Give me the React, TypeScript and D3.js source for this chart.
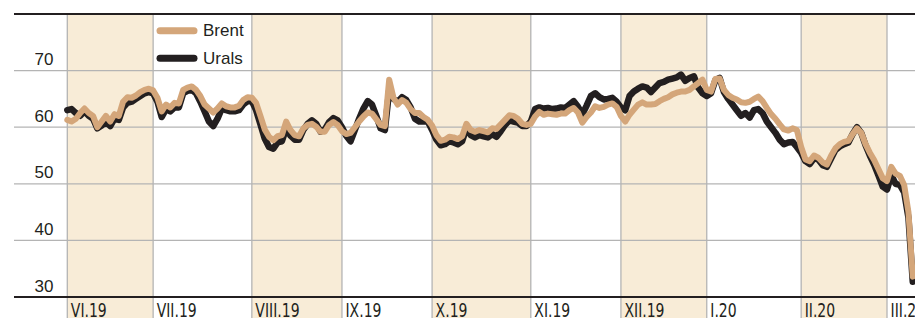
import * as d3 from "d3";

const W = 915;
const H = 318;

const monthLabels = ["VI.19", "VII.19", "VIII.19", "IX.19", "X.19", "XI.19", "XII.19", "I.20", "II.20", "III.20"];
// trading days per month (last month is partial)
const tradingDays = [20, 23, 21, 21, 23, 21, 20, 22, 20, 7];
const yTicks = [30, 40, 50, 60, 70];

// USD per barrel, one value per trading day
const brent = [
  61.3, 61.0, 61.5, 62.5, 63.3, 62.5, 62.0, 60.0, 61.0, 62.0, 61.0, 62.3, 62.0, 64.5, 65.3, 65.2, 65.6, 66.2, 66.6, 66.8,
  66.5, 65.2, 62.8, 64.0, 63.5, 64.3, 64.2, 66.6, 67.0, 67.2, 66.6, 65.5, 64.0, 63.3, 62.6, 63.3, 64.2, 63.7, 63.5, 63.5, 63.8, 64.8, 65.3,
  65.2, 64.3, 62.0, 59.6, 58.3, 57.7, 58.4, 58.6, 61.0, 59.5, 58.6, 58.4, 59.8, 60.4, 60.6, 60.1, 59.2, 59.2, 60.4, 60.9, 60.4,
  59.3, 58.8, 59.0, 60.0, 61.0, 61.9, 62.6, 62.4, 61.4, 60.4, 60.2, 68.4, 65.2, 64.0, 64.8, 64.3, 63.2, 62.5, 62.5, 61.8, 61.3,
  60.3, 58.6, 57.6, 57.8, 58.3, 58.2, 57.9, 58.4, 60.6, 59.5, 59.2, 59.5, 59.3, 59.1, 59.8, 59.7, 60.5, 61.3, 62.1, 62.0, 61.5, 60.6, 60.4,
  60.6, 61.9, 62.7, 62.2, 62.4, 62.3, 62.2, 62.4, 62.4, 63.0, 63.4, 62.6, 60.8, 61.8, 62.6, 63.7, 63.4, 63.6, 64.0, 64.2, 63.6,
  62.0, 61.0, 62.2, 63.1, 64.0, 64.4, 64.0, 64.0, 64.1, 64.6, 65.0, 65.3, 65.8, 66.1, 66.3, 66.3, 66.6, 67.2, 67.8, 68.4,
  66.6, 66.3, 68.5, 68.6, 66.6, 65.7, 65.2, 64.9, 64.4, 64.3, 64.5, 65.0, 65.4, 64.6, 63.4, 62.3, 61.5, 60.5, 59.6, 59.4, 59.8, 59.5,
  56.5, 54.3, 54.0, 55.0, 54.6, 53.8, 53.4, 55.0, 56.3, 57.0, 57.4, 57.6, 58.8, 59.8, 59.0, 57.0, 55.5, 54.2, 52.6, 51.0,
  50.5, 53.0, 51.8, 51.4, 49.8, 45.0, 33.6,
];

const urals = [
  63.0, 63.2, 62.5, 62.0, 62.8, 62.0, 61.5, 59.8, 60.3, 61.0, 60.2, 61.5, 61.3, 63.5, 64.3, 64.5, 65.0, 65.5, 66.0, 66.2,
  66.0, 64.5, 61.8, 63.2, 62.8, 63.5, 63.5, 66.0, 66.4, 66.6, 66.0, 64.5, 62.8, 61.0, 60.2, 61.5, 63.3, 63.0, 62.8, 62.8, 63.0, 64.0, 64.6,
  64.6, 63.0, 60.5, 58.0, 56.5, 56.2, 57.3, 57.5, 59.8, 58.5, 57.8, 57.8, 59.5, 60.6, 61.2, 60.6, 59.2, 59.6, 60.9, 61.6, 61.2,
  60.0, 58.5, 57.5, 59.5, 61.5, 63.3, 64.6, 64.0, 62.0, 59.8, 59.5, 66.5, 65.0, 64.5, 65.3, 64.8, 63.5, 61.5, 61.0, 61.0, 61.0,
  59.5, 57.8, 56.8, 57.0, 57.5, 57.3, 57.0, 57.5, 59.8, 58.6, 58.2, 58.6, 58.4, 58.2, 58.8, 58.3, 59.3, 60.4, 61.2, 61.0, 60.8, 60.2, 60.2,
  61.0, 63.2, 63.5, 63.3, 63.4, 63.2, 63.3, 63.5, 63.4, 64.0, 64.6, 63.6, 62.3, 63.8, 65.5, 66.0, 65.3, 64.9, 65.0, 65.2, 64.5,
  63.5, 63.0, 65.5, 66.3, 66.8, 67.2, 67.0, 66.2, 67.0, 67.8, 68.0, 68.4, 68.6, 68.8, 69.3, 68.2, 68.7, 69.0, 67.0, 66.0,
  65.5, 66.0, 68.3, 68.7, 66.2, 65.0, 64.0, 63.0, 62.0, 62.5, 61.7, 63.0, 63.2, 62.5, 61.0, 60.0, 59.0, 57.8, 57.0, 57.3, 57.4, 56.5,
  55.5, 54.0, 53.5, 54.5, 54.3, 53.3, 53.0, 54.5, 56.0, 56.6, 57.0, 57.3, 58.8, 60.0, 59.0, 56.8, 55.0, 53.4, 51.5, 49.5,
  49.0, 51.5, 50.0, 49.8, 48.5, 44.0, 32.7,
];

const BAND = "#f8ecd7";
const GRID = "#b4b4b4";
const INK = "#231f20";
const BRENT = "#d4a67a";

export default function App() {
  const monthStarts = tradingDays.map((_, i) => d3.sum(tradingDays.slice(0, i)));
  const x = d3.scaleLinear().domain([0, monthStarts[monthStarts.length - 1]]).range([67.3, 887]);
  const y = d3.scaleLinear().domain([30, 80]).range([297, 14]);

  const line = d3
    .line<number>()
    .x((_, i) => x(i))
    .y((d) => y(d));

  const font = "'Liberation Sans', Arial, sans-serif";
  const narrow = "'Liberation Sans Narrow', 'DejaVu Sans Condensed', 'Liberation Sans', sans-serif";

  return (
    <div style={{ position: "absolute", left: 0, top: 0 }}>
      <svg width={W} height={H} style={{ display: "block" }}>
        <rect width={W} height={H} fill="#fff" />
        {/* month bands */}
        {monthStarts.map((s, i) => {
          const x0 = x(s);
          const x1 = i < monthStarts.length - 1 ? x(monthStarts[i + 1]) : W;
          return i % 2 === 0 ? (
            <rect key={"b" + i} x={x0} y={y(80)} width={x1 - x0} height={H - y(80)} fill={BAND} />
          ) : null;
        })}
        {/* horizontal grid */}
        {yTicks.slice(1).map((t) => (
          <line key={"g" + t} x1={14} x2={W} y1={y(t)} y2={y(t)} stroke={GRID} strokeWidth={1.3} />
        ))}
        {/* month lines */}
        {monthStarts.map((s, i) => (
          <line key={"v" + i} x1={x(s)} x2={x(s)} y1={y(80)} y2={H} stroke={GRID} strokeWidth={1.3} />
        ))}
        {/* top rule and base axis */}
        <line x1={14} x2={W} y1={y(80)} y2={y(80)} stroke={INK} strokeWidth={2} />
        <line x1={14} x2={W} y1={y(30)} y2={y(30)} stroke={INK} strokeWidth={2.2} />

        {/* y labels */}
        {yTicks.map((t) => (
          <text key={"yl" + t} x={53.5} y={y(t) - 5.5} textAnchor="end" fontFamily={font} fontSize={17} fill={INK}>
            {t}
          </text>
        ))}
        {/* month labels */}
        {monthStarts.map((s, i) => (
          <text
            key={"ml" + i}
            transform={`translate(${x(s) + 3.5},${317}) scale(0.82,1)`}
            fontFamily={narrow}
            fontSize={19}
            fill={INK}
          >
            {monthLabels[i]}
          </text>
        ))}

        {/* series */}
        <path d={line(urals) ?? ""} fill="none" stroke={INK} strokeWidth={6.5} strokeLinejoin="round" strokeLinecap="round" />
        <path d={line(brent) ?? ""} fill="none" stroke={BRENT} strokeWidth={6} strokeLinejoin="round" strokeLinecap="round" />

        {/* legend */}
        <line x1={160} x2={194} y1={30.7} y2={30.7} stroke={BRENT} strokeWidth={7} strokeLinecap="round" />
        <text x={203} y={36} fontFamily={font} fontSize={17} fill={INK}>Brent</text>
        <line x1={160} x2={194} y1={58.3} y2={58.3} stroke={INK} strokeWidth={7} strokeLinecap="round" />
        <text x={203} y={64} fontFamily={font} fontSize={17} fill={INK}>Urals</text>
      </svg>
    </div>
  );
}
